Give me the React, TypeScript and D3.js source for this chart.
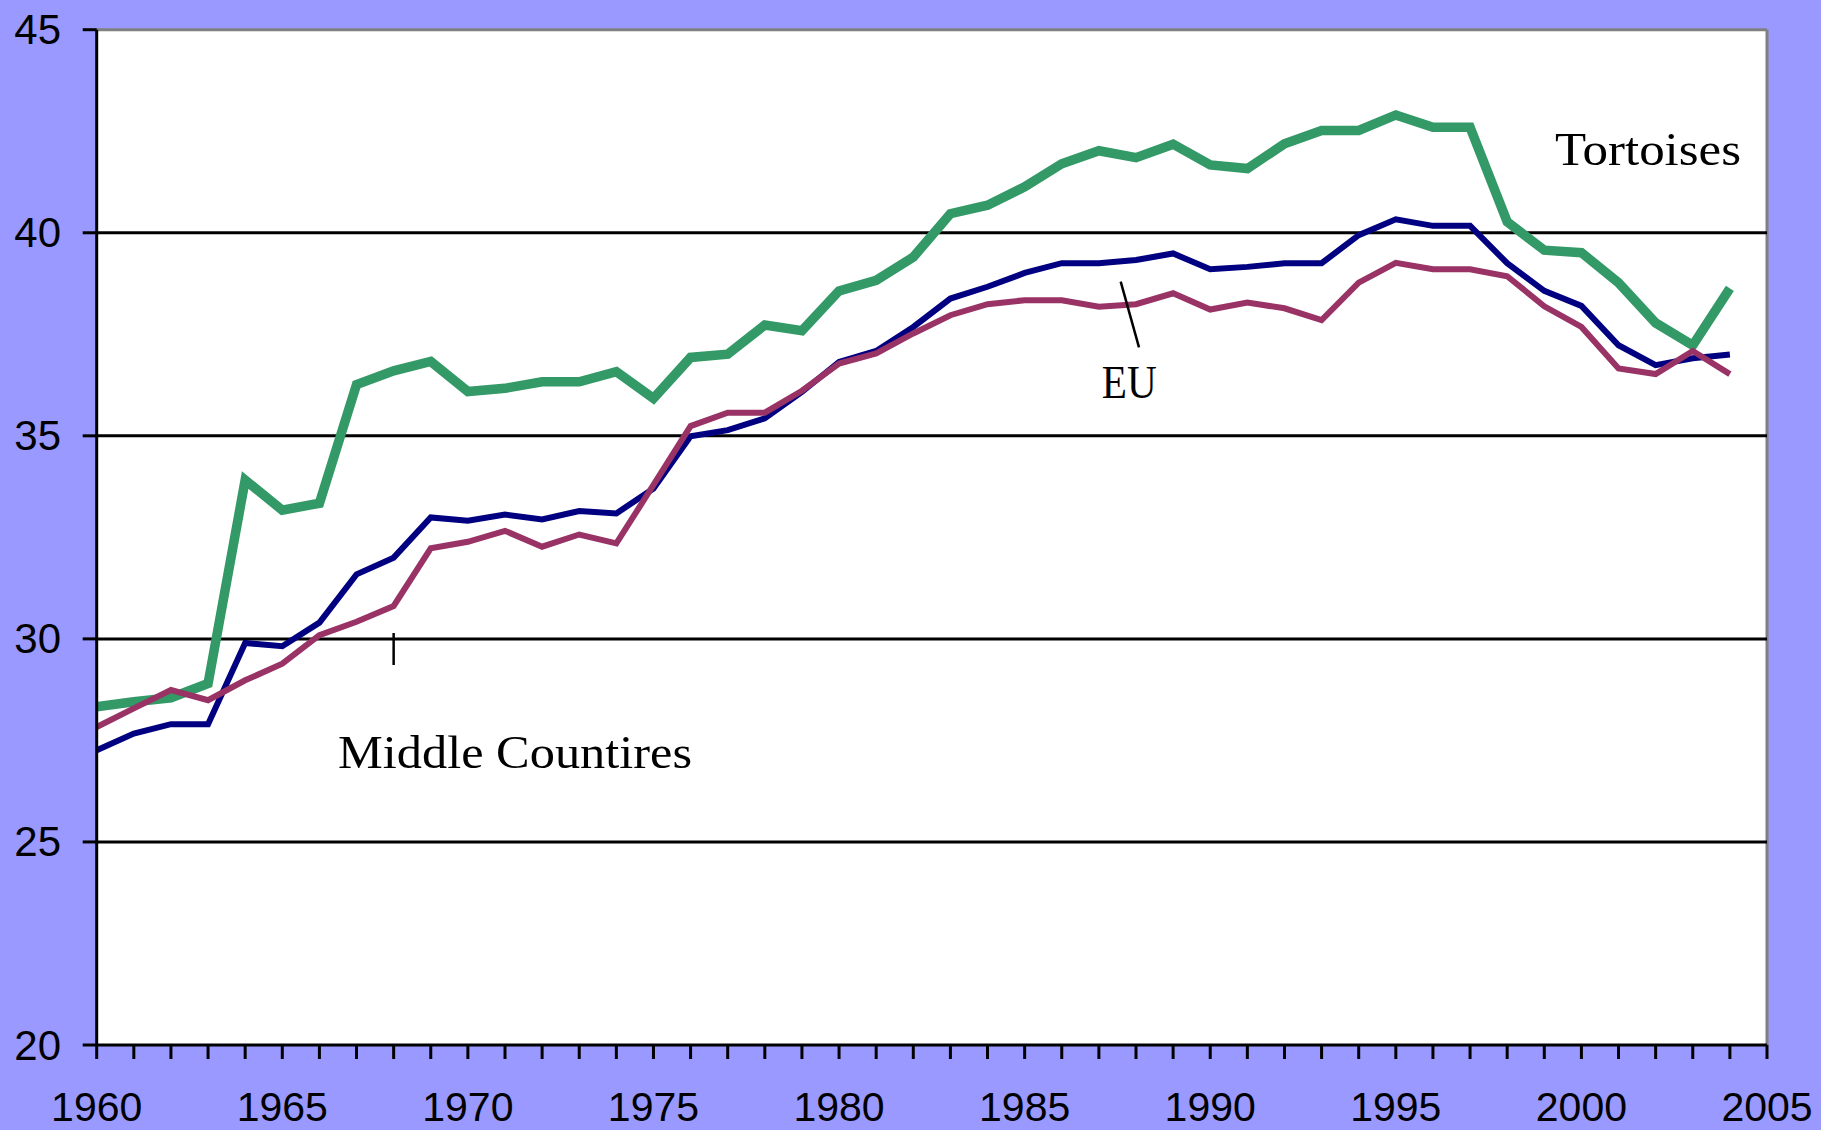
import React from "react";
import * as d3 from "d3";

const years: number[] = d3.range(1960, 2005);

const tortoises: number[] = [
  28.33, 28.45, 28.55, 28.9, 33.91, 33.17, 33.34, 36.26, 36.6, 36.83,
  36.09, 36.17, 36.33, 36.33, 36.58, 35.92, 36.93, 37.01, 37.73, 37.59,
  38.57, 38.83, 39.4, 40.47, 40.68, 41.13, 41.7, 42.02, 41.85, 42.18,
  41.67, 41.58, 42.19, 42.52, 42.52, 42.9, 42.6, 42.6, 40.27, 39.57,
  39.51, 38.77, 37.78, 37.23, 38.63,
];

const eu: number[] = [
  27.26, 27.67, 27.9, 27.9, 29.9, 29.82, 30.4, 31.59, 32.0, 32.99,
  32.91, 33.06, 32.94, 33.15, 33.09, 33.7, 34.99, 35.14, 35.43, 36.08,
  36.82, 37.09, 37.68, 38.38, 38.67, 39.01, 39.25, 39.25, 39.33, 39.49,
  39.1, 39.16, 39.25, 39.25, 39.94, 40.33, 40.17, 40.17, 39.25, 38.57,
  38.2, 37.23, 36.74, 36.91, 37.0,
];

const middle: number[] = [
  27.83, 28.29, 28.74, 28.49, 28.98, 29.39, 30.09, 30.42, 30.81, 32.23,
  32.39, 32.66, 32.27, 32.57, 32.35, 33.79, 35.24, 35.57, 35.57, 36.11,
  36.78, 37.03, 37.52, 37.97, 38.24, 38.34, 38.34, 38.18, 38.24, 38.51,
  38.11, 38.28, 38.14, 37.85, 38.77, 39.26, 39.1, 39.1, 38.93, 38.19,
  37.68, 36.66, 36.52, 37.09, 36.52,
];

const yTicks: number[] = [20, 25, 30, 35, 40, 45];
const xTickYears: number[] = d3.range(1960, 2006);
const xLabelYears: number[] = [1960, 1965, 1970, 1975, 1980, 1985, 1990, 1995, 2000, 2005];

export default function App() {
  const W = 1821;
  const H = 1130;
  const left = 96.7;
  const right = 1767;
  const top = 29.7;
  const bottom = 1045;

  const x = d3.scaleLinear().domain([1960, 2005]).range([left, right]);
  const y = d3.scaleLinear().domain([20, 45]).range([bottom, top]);

  const mk = (vals: number[]) =>
    d3
      .line<number>()
      .x((_, i) => x(years[i]))
      .y((v) => y(v))(vals) as string;

  const sans = "'Liberation Sans', Arial, sans-serif";
  const serif = "'Liberation Serif', 'Times New Roman', serif";

  return (
    <div>
      <style>{`body{margin:0;} svg{display:block;}`}</style>
      <svg width={W} height={H} viewBox={`0 0 ${W} ${H}`}>
        <rect x={0} y={0} width={W} height={H} fill="#9999FF" />
        <rect x={left} y={top} width={right - left} height={bottom - top} fill="#FFFFFF" />
        <line x1={left} x2={right} y1={top} y2={top} stroke="#808080" strokeWidth={3} />
        <line x1={right} x2={right} y1={top} y2={bottom} stroke="#808080" strokeWidth={3} />
        {yTicks
          .filter((t) => t > 20 && t < 45)
          .map((t) => (
            <line key={"g" + t} x1={left} x2={right} y1={y(t)} y2={y(t)} stroke="#000" strokeWidth={3} />
          ))}
        <path d={mk(tortoises)} fill="none" stroke="#339966" strokeWidth={9.5} strokeLinejoin="miter" />
        <path d={mk(eu)} fill="none" stroke="#000080" strokeWidth={6} strokeLinejoin="miter" />
        <path d={mk(middle)} fill="none" stroke="#993366" strokeWidth={6} strokeLinejoin="miter" />
        <line x1={left} x2={left} y1={top} y2={bottom} stroke="#000" strokeWidth={3} />
        <line x1={left} x2={right} y1={bottom} y2={bottom} stroke="#000" strokeWidth={3} />
        {yTicks.map((t) => (
          <g key={"yt" + t}>
            <line x1={left - 14} x2={left} y1={y(t)} y2={y(t)} stroke="#000" strokeWidth={3} />
            <text
              x={61}
              y={y(t)}
              textAnchor="end"
              dominantBaseline="central"
              fontFamily={sans}
              fontSize={42}
              fill="#000"
            >
              {t}
            </text>
          </g>
        ))}
        {xTickYears.map((yr) => (
          <line key={"xt" + yr} x1={x(yr)} x2={x(yr)} y1={bottom} y2={bottom + 14} stroke="#000" strokeWidth={3} />
        ))}
        {xLabelYears.map((yr) => (
          <text
            key={"xl" + yr}
            x={x(yr)}
            y={1121}
            textAnchor="middle"
            fontFamily={sans}
            fontSize={41}
            fill="#000"
          >
            {yr}
          </text>
        ))}
        <text x={1555} y={165} fontFamily={serif} fontSize={46} textLength={186} lengthAdjust="spacingAndGlyphs" fill="#000">
          Tortoises
        </text>
        <line x1={1120.7} y1={281.7} x2={1139} y2={347.3} stroke="#000" strokeWidth={2.5} />
        <text x={1101.7} y={398} fontFamily={serif} fontSize={46} textLength={55} lengthAdjust="spacingAndGlyphs" fill="#000">
          EU
        </text>
        <line x1={x(1968)} y1={633} x2={x(1968)} y2={665} stroke="#000" strokeWidth={2.5} />
        <text x={338} y={767.7} fontFamily={serif} fontSize={46} textLength={354} lengthAdjust="spacingAndGlyphs" fill="#000">
          Middle Countires
        </text>
      </svg>
    </div>
  );
}
